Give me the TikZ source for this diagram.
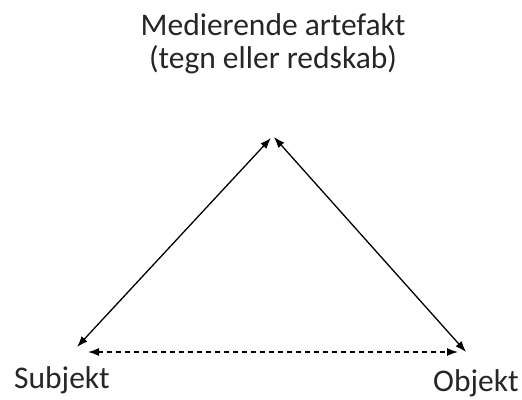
\documentclass[tikz,border=0pt]{standalone}
\usepackage{fontspec}
\setmainfont{Carlito}
\usetikzlibrary{arrows.meta}
\definecolor{txt}{HTML}{262626}
\begin{document}
\begin{tikzpicture}[x=1pt,y=1pt,
  lbl/.style={inner sep=0pt, text=txt, font=\fontsize{31.5}{33}\selectfont},
  arr/.style={line width=1.3pt, {Latex[length=11pt,width=8pt]}-{Latex[length=11pt,width=8pt]}},
  dashline/.style={arr, dash pattern=on 5pt off 4pt}]
\useasboundingbox (0,0) rectangle (522,-399);
\node[lbl, align=center, anchor=north] (title) at (273,-13) {Medierende artefakt\\(tegn eller redskab)};
\node[lbl, anchor=base west] (subj) at (14,-388) {Subjekt};
\node[lbl, anchor=base west] (obj) at (433,-391) {Objekt};
\coordinate (apexL) at (271,-138);
\coordinate (apexR) at (274,-137);
\coordinate (s) at (77,-347);
\coordinate (o) at (466,-352);
\coordinate (sd) at (88,-352);
\coordinate (od) at (458,-352);
\draw[arr] (s) -- (apexL);
\draw[arr] (apexR) -- (o);
\draw[dashline] (sd) -- (od);
\end{tikzpicture}
\end{document}
